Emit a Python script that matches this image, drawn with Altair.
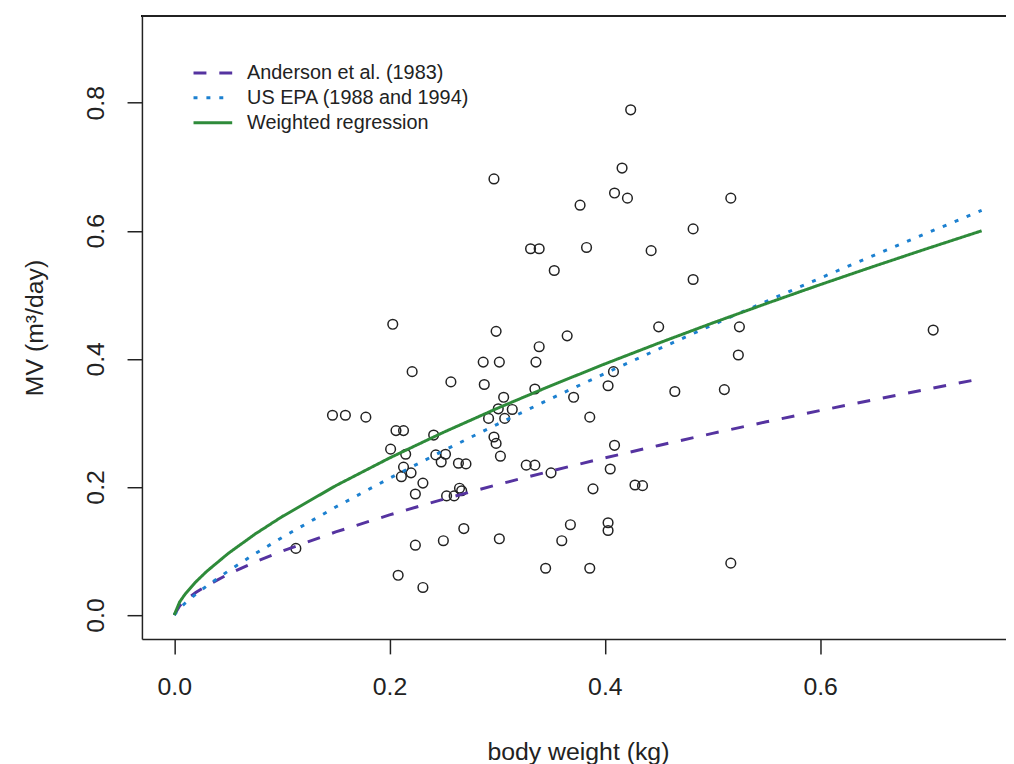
import altair as alt
import pandas as pd

# observed points: body weight (kg) and minute volume (m3/day)
bw = [0.113, 0.147, 0.159, 0.178, 0.203, 0.201, 0.206, 0.213, 0.215, 0.213,
      0.211, 0.220, 0.221, 0.224, 0.208, 0.224, 0.231, 0.231, 0.241, 0.243,
      0.248, 0.252, 0.250, 0.257, 0.253, 0.260, 0.264, 0.265, 0.267, 0.271,
      0.269, 0.287, 0.288, 0.292, 0.297, 0.299, 0.297, 0.299, 0.302, 0.303,
      0.302, 0.306, 0.307, 0.301, 0.314, 0.327, 0.331, 0.335, 0.339, 0.335,
      0.336, 0.339, 0.345, 0.350, 0.353, 0.360, 0.365, 0.368, 0.371, 0.377,
      0.383, 0.386, 0.386, 0.389, 0.403, 0.403, 0.403, 0.405, 0.408, 0.409,
      0.409, 0.416, 0.421, 0.424, 0.428, 0.435, 0.443, 0.450, 0.465, 0.482,
      0.482, 0.511, 0.517, 0.517, 0.524, 0.525, 0.705]
mv = [0.104, 0.312, 0.312, 0.309, 0.454, 0.259, 0.288, 0.288, 0.251, 0.231,
      0.216, 0.222, 0.380, 0.189, 0.062, 0.109, 0.043, 0.206, 0.281, 0.250,
      0.239, 0.251, 0.116, 0.364, 0.186, 0.186, 0.237, 0.198, 0.194, 0.236,
      0.135, 0.395, 0.360, 0.307, 0.681, 0.443, 0.278, 0.268, 0.395, 0.248,
      0.119, 0.340, 0.307, 0.322, 0.321, 0.234, 0.572, 0.234, 0.572, 0.353,
      0.395, 0.419, 0.073, 0.222, 0.538, 0.116, 0.436, 0.141, 0.340, 0.640,
      0.574, 0.073, 0.309, 0.197, 0.358, 0.144, 0.132, 0.228, 0.380, 0.265,
      0.659, 0.698, 0.651, 0.789, 0.203, 0.202, 0.569, 0.450, 0.349, 0.603,
      0.524, 0.352, 0.651, 0.081, 0.406, 0.450, 0.445]

# model curves
curve_bw = [0.0, 0.005, 0.01, 0.02, 0.03, 0.05, 0.075, 0.1, 0.15, 0.2, 0.25,
            0.3, 0.35, 0.4, 0.45, 0.5, 0.55, 0.6, 0.65, 0.7, 0.75]
anderson = [0.0, 0.0142, 0.0223, 0.035, 0.0455, 0.0635, 0.0826, 0.0996, 0.1297,
            0.1563, 0.1808, 0.2035, 0.2249, 0.2453, 0.2648, 0.2836, 0.3017,
            0.3193, 0.3363, 0.3529, 0.3691]
epa = [0.0, 0.0103, 0.0183, 0.0323, 0.045, 0.0685, 0.0955, 0.1209, 0.1686,
       0.2135, 0.2565, 0.2978, 0.338, 0.3772, 0.4154, 0.453, 0.4898, 0.5261,
       0.5618, 0.597, 0.6318]
weighted = [0.0, 0.0202, 0.0323, 0.0516, 0.0679, 0.0959, 0.1263, 0.1534, 0.2019,
            0.2452, 0.2852, 0.3227, 0.3582, 0.3921, 0.4246, 0.456, 0.4864,
            0.5159, 0.5446, 0.5726, 0.6]

series_names = ["Anderson et al. (1983)", "US EPA (1988 and 1994)", "Weighted regression"]
series_colors = ["#5533A0", "#1C80D0", "#2E8B3A"]
series_dashes = [[13, 13], [4, 9], [1, 0]]

x_ticks = [0.0, 0.2, 0.4, 0.6]
y_ticks = [0.0, 0.2, 0.4, 0.6, 0.8]

W, H = 879, 628
FONT = "Liberation Sans"
INK = "#222222"

pts = pd.DataFrame({"bw": bw, "mv": mv})
rows = []
for name, vals in zip(series_names, [anderson, epa, weighted]):
    for xv, yv in zip(curve_bw, vals):
        rows.append({"bw": xv, "mv": yv, "series": name})
curves = pd.DataFrame(rows)

xscale = alt.Scale(domain=[-0.03, 0.78], nice=False, zero=False)
yscale = alt.Scale(domain=[-0.0375, 0.9355], nice=False, zero=False)

xaxis = alt.Axis(values=x_ticks, format=".1f", title="body weight (kg)",
                 labelFontSize=25, titleFontSize=25, labelFont=FONT, titleFont=FONT,
                 titleFontWeight="normal", labelColor=INK, titleColor=INK,
                 tickSize=15, tickWidth=1.5, tickColor=INK, labelPadding=21,
                 titlePadding=40, domain=True, domainColor=INK, domainWidth=1.5,
                 grid=False, labelFlush=False)
yaxis = alt.Axis(values=y_ticks, format=".1f", title="MV (m³/day)",
                 labelFontSize=25, titleFontSize=25, labelFont=FONT, titleFont=FONT,
                 titleFontWeight="normal", labelColor=INK, titleColor=INK,
                 tickSize=15, tickWidth=1.5, tickColor=INK, labelPadding=19,
                 labelAngle=270, labelAlign="center", labelBaseline="bottom",
                 titlePadding=36, domain=True, domainColor=INK, domainWidth=1.5,
                 grid=False, labelFlush=False)

lines = alt.Chart(curves).mark_line(strokeWidth=3).encode(
    x=alt.X("bw:Q", scale=xscale, axis=xaxis),
    y=alt.Y("mv:Q", scale=yscale, axis=yaxis),
    color=alt.Color("series:N", scale=alt.Scale(domain=series_names, range=series_colors),
                    legend=alt.Legend(title=None, orient="none", legendX=60, legendY=46,
                                      symbolType="M-2,0H2", symbolSize=380,
                                      symbolStrokeWidth=3, labelFontSize=20,
                                      labelFont=FONT, labelColor=INK, labelOffset=23,
                                      labelLimit=0, rowPadding=3, padding=0)),
    strokeDash=alt.StrokeDash("series:N", scale=alt.Scale(domain=series_names, range=series_dashes),
                              legend=None),
    order=alt.Order("bw:Q"),
    detail="series:N",
)

points = alt.Chart(pts).mark_point(shape="circle", filled=False, size=95,
                                   strokeWidth=1.5, color=INK, opacity=1).encode(
    x=alt.X("bw:Q", scale=xscale),
    y=alt.Y("mv:Q", scale=yscale),
)

top_border = alt.Chart(pts).mark_rule(color=INK, strokeWidth=1.5).encode(
    x=alt.value(0), x2=alt.value(W), y=alt.value(0)
)

chart = alt.layer(points, lines, top_border).properties(
    width=W, height=H,
    autosize=alt.AutoSizeParams(type="none"),
    padding={"left": 135, "top": 5, "right": -8, "bottom": 130},
).configure_view(stroke=None)

chart.save("out.html", embed_options={"renderer": "svg", "actions": False})
